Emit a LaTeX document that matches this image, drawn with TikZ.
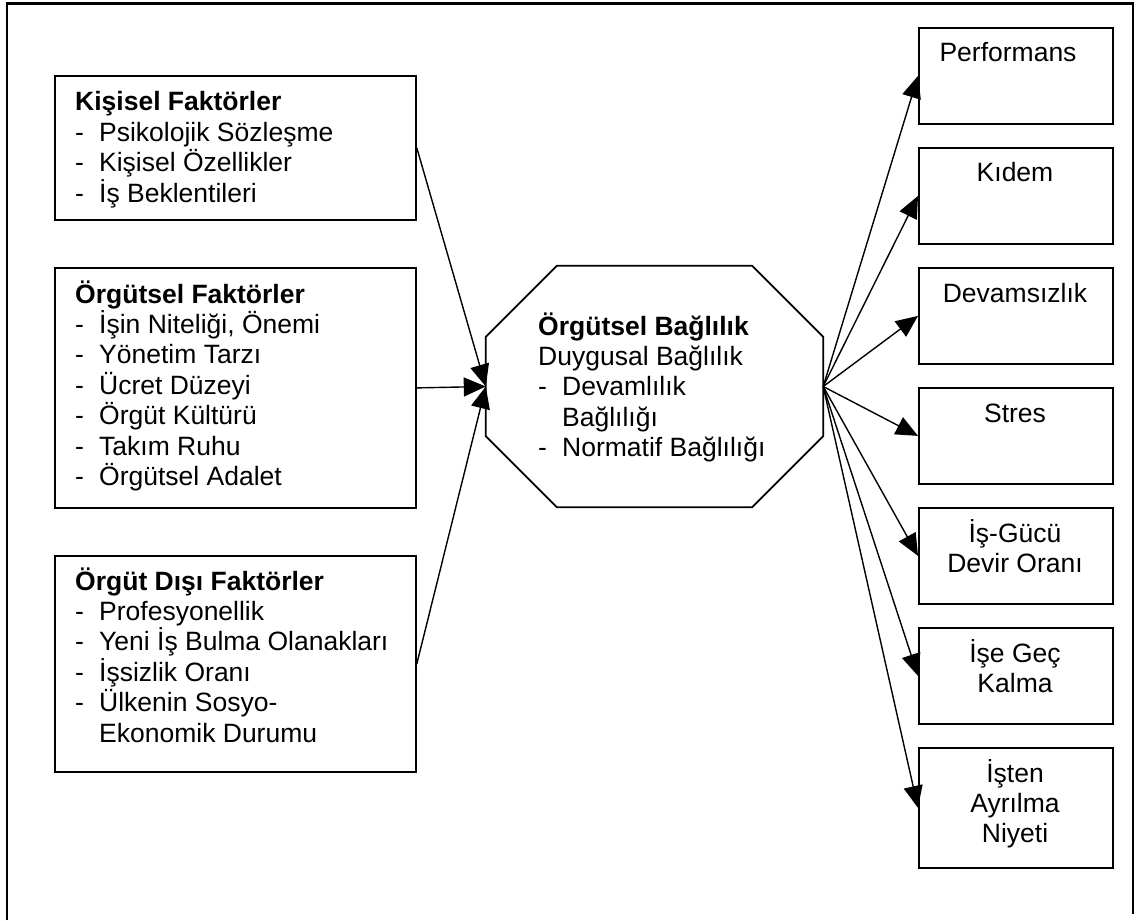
\documentclass[tikz,border=0pt]{standalone}
\usepackage{fontspec}
\setmainfont{Liberation Sans}
\usetikzlibrary{arrows.meta}

% stacked lines with a fixed line pitch; the block's baseline is its first line
\newcommand{\leftblock}[1]{\vtop{\baselineskip=30.4pt\lineskiplimit=-\maxdimen\lineskip=0pt\halign{##\hfil\cr#1\crcr}}}
\newcommand{\centerblock}[1]{\vtop{\baselineskip=30.4pt\lineskiplimit=-\maxdimen\lineskip=0pt\halign{\hfil##\hfil\cr#1\crcr}}}
\newcommand{\dashitem}{\makebox[24pt][l]{-}}
\newcommand{\dashgap}{\hspace*{24pt}}

\begin{document}
\begin{tikzpicture}[x=1pt,y=-1pt,
  box/.style={draw,line width=1.8pt,rectangle,inner sep=0pt,anchor=north west},
  hub/.style={rectangle,inner sep=0pt,minimum width=337pt,minimum height=241pt},
  txt/.style={inner sep=0pt,font=\fontsize{26.5}{30.4}\selectfont},
  link/.style={line width=1.4pt,-{Triangle[length=22pt,width=19pt]}},
  frame/.style={line width=2.2pt}]
\useasboundingbox (0,0) rectangle (1139,920);

% outer frame
\draw[frame] (7,920) -- (7,3.5) -- (1133,3.5) -- (1133,914);

% antecedent boxes
\node[box,minimum width=361pt,minimum height=144pt] (kisisel) at (54,75) {};
\node[txt,anchor=base west] (kisiselT) at (75,111) {\leftblock{%
  \bfseries Kişisel Faktörler\cr
  \dashitem Psikolojik Sözleşme\cr
  \dashitem Kişisel Özellikler\cr
  \dashitem İş Beklentileri}};

\node[box,minimum width=361pt,minimum height=240pt] (orgutsel) at (54,267) {};
\node[txt,anchor=base west] (orgutselT) at (75,303) {\leftblock{%
  \bfseries Örgütsel Faktörler\cr
  \dashitem İşin Niteliği, Önemi\cr
  \dashitem Yönetim Tarzı\cr
  \dashitem Ücret Düzeyi\cr
  \dashitem Örgüt Kültürü\cr
  \dashitem Takım Ruhu\cr
  \dashitem Örgütsel Adalet}};

\node[box,minimum width=361pt,minimum height=216pt] (disi) at (54,555) {};
\node[txt,anchor=base west] (disiT) at (75,590) {\leftblock{%
  \bfseries Örgüt Dışı Faktörler\cr
  \dashitem Profesyonellik\cr
  \dashitem Yeni İş Bulma Olanakları\cr
  \dashitem İşsizlik Oranı\cr
  \dashitem Ülkenin Sosyo-\cr
  \dashgap Ekonomik Durumu}};

% central octagon
\node[hub] (bag) at (654.5,386.5) {};
\draw[line width=1.8pt]
  ([xshift=71pt]bag.north west) -- ([xshift=-71pt]bag.north east)
  -- ([yshift=-71pt]bag.north east) -- ([yshift=71pt]bag.south east)
  -- ([xshift=-71pt]bag.south east) -- ([xshift=71pt]bag.south west)
  -- ([yshift=71pt]bag.south west) -- ([yshift=-71pt]bag.north west) -- cycle;
\node[txt,anchor=base west] (bagT) at (538,335) {\leftblock{%
  \bfseries Örgütsel Bağlılık\cr
  Duygusal Bağlılık\cr
  \dashitem Devamlılık\cr
  \dashgap Bağlılığı\cr
  \dashitem Normatif Bağlılığı}};

% outcome boxes
\node[box,minimum width=194pt,minimum height=96pt] (perf) at (918,27) {};
\node[txt,anchor=base] (perfT) at (1008,62) {\centerblock{Performans}};

\node[box,minimum width=194pt,minimum height=96pt] (kidem) at (918,147) {};
\node[txt,anchor=base] (kidemT) at (1015,182) {\centerblock{Kıdem}};

\node[box,minimum width=194pt,minimum height=96pt] (devam) at (918,267) {};
\node[txt,anchor=base] (devamT) at (1015,302) {\centerblock{Devamsızlık}};

\node[box,minimum width=194pt,minimum height=96pt] (stres) at (918,387) {};
\node[txt,anchor=base] (stresT) at (1015,422) {\centerblock{Stres}};

\node[box,minimum width=194pt,minimum height=96pt] (isgucu) at (918,507) {};
\node[txt,anchor=base] (isgucuT) at (1015,542) {\centerblock{İş-Gücü\cr Devir Oranı}};

\node[box,minimum width=194pt,minimum height=96pt] (gec) at (918,627) {};
\node[txt,anchor=base] (gecT) at (1015,662) {\centerblock{İşe Geç\cr Kalma}};

\node[box,minimum width=194pt,minimum height=120pt] (ayrilma) at (918,747) {};
\node[txt,anchor=base] (ayrilmaT) at (1015,782) {\centerblock{İşten\cr Ayrılma\cr Niyeti}};

% connectors
\draw[link] (kisisel.east) -- (bag.west);
\draw[link] (orgutsel.east) -- (bag.west);
\draw[link] (disi.east) -- (bag.west);

\draw[link] (bag.east) -- (perf.west);
\draw[link] (bag.east) -- (kidem.west);
\draw[link] (bag.east) -- (devam.west);
\draw[link] (bag.east) -- (stres.west);
\draw[link] (bag.east) -- (isgucu.west);
\draw[link] (bag.east) -- (gec.west);
\draw[link] (bag.east) -- (ayrilma.west);
\end{tikzpicture}
\end{document}
